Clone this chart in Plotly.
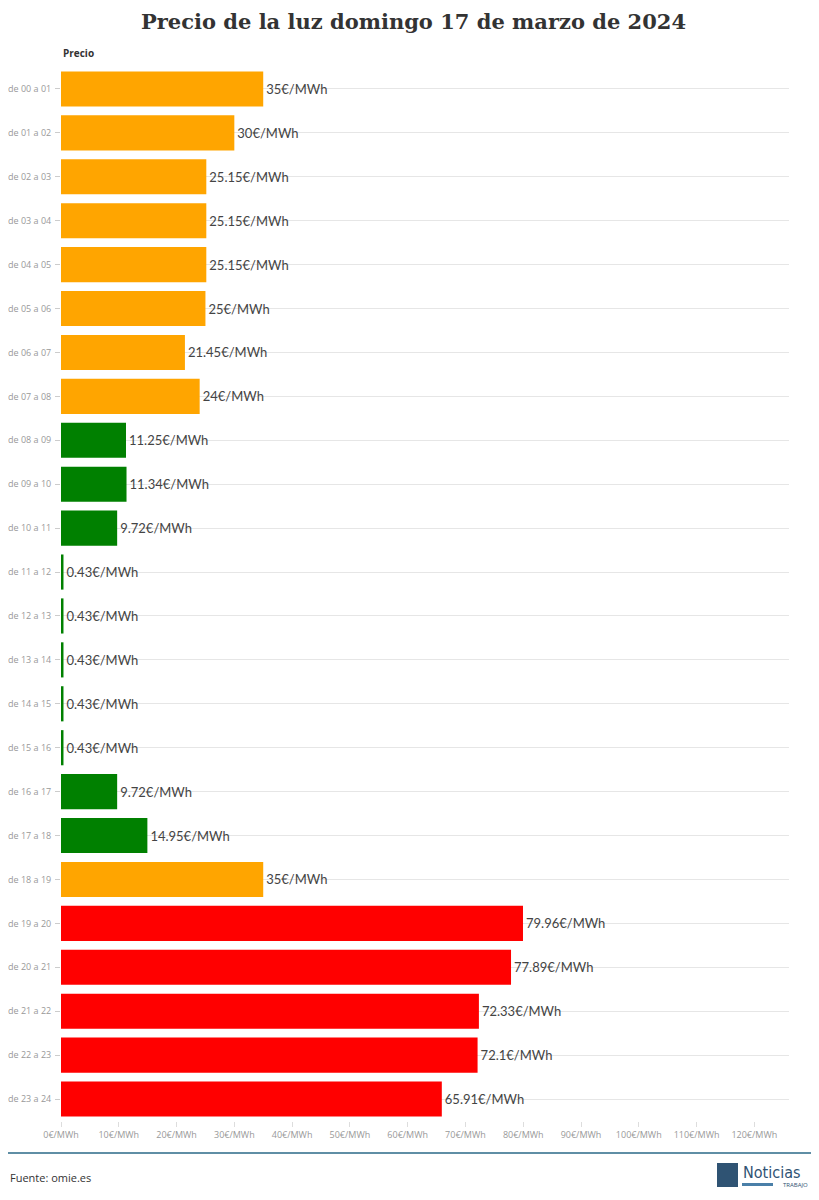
import plotly.graph_objects as go

horas = [f"de {i:02d} a {i+1:02d}" for i in range(24)]
precios = [35, 30, 25.15, 25.15, 25.15, 25, 21.45, 24, 11.25, 11.34, 9.72, 0.43, 0.43, 0.43,
           0.43, 0.43, 9.72, 14.95, 35, 79.96, 77.89, 72.33, 72.1, 65.91]
colores = ["#FFA500"]*8 + ["#008000"]*10 + ["#FFA500"] + ["#FF0000"]*5
etiquetas = [f"{p:g}€/MWh" for p in precios]
ticks = list(range(0, 130, 10))

OFF = 8  # page body margin
W, H = 811, 1192
L, R, T, B = 61-OFF, 30, 67-OFF, 79
PH = H - T - B
PW = W - L - R

def py(ypix):  # page pixel y -> paper
    return 1 - (ypix - OFF - T) / PH
def px(xpix):
    return (xpix - OFF - L) / PW

fig = go.Figure(go.Bar(
    y=horas, x=precios, orientation="h", marker=dict(color=colores, line=dict(width=0)),
    text=etiquetas, textposition="outside", cliponaxis=False,
    textfont=dict(family="Lato, Open Sans, sans-serif", size=13, color="#444"),
))
fig.update_layout(
    width=W, height=H, margin=dict(l=L, r=R, t=T, b=B),
    paper_bgcolor="white", plot_bgcolor="white", bargap=0.2, showlegend=False,
    title=dict(text="<b>Precio de la luz domingo 17 de marzo de 2024</b>", x=0.5, xanchor="center",
               y=1-(22-OFF)/H, yanchor="middle",
               font=dict(family="DejaVu Serif, serif", size=21, color="#333")),
    font=dict(family="Open Sans, sans-serif"),
)
fig.update_yaxes(autorange="reversed", showgrid=True, gridcolor="#e6e6e6", ticks="outside",
                 ticklen=5, tickcolor="#ccc", tickfont=dict(size=9, color="#999"),
                 ticklabelstandoff=2, automargin=False)
fig.update_xaxes(range=[0, 126], tickvals=ticks, ticktext=[f"{t}€/MWh" for t in ticks],
                 showgrid=False, zeroline=False, ticks="outside", tickcolor="#ddd", ticklen=5,
                 tickfont=dict(size=9, color="#999"), automargin=False)
fig.add_annotation(text="<b>Precio</b>", xref="paper", yref="paper", x=0, y=py(53),
                   xanchor="left", yanchor="middle", showarrow=False, font=dict(size=10, color="#333"))
# footer
fig.add_shape(type="line", xref="paper", yref="paper", x0=px(8), x1=px(811),
              y0=py(1153), y1=py(1153), line=dict(color="#5f8ea5", width=2))
fig.add_annotation(text="Fuente: omie.es", xref="paper", yref="paper", x=px(8),
                   y=py(1177), xanchor="left", yanchor="middle", showarrow=False,
                   font=dict(size=11, color="#333"))
fig.add_shape(type="rect", xref="paper", yref="paper",
              x0=px(717), x1=px(738), y0=py(1187), y1=py(1163),
              fillcolor="#2f5373", line=dict(width=0))
fig.add_shape(type="rect", xref="paper", yref="paper",
              x0=px(742), x1=px(773), y0=py(1186), y1=py(1183),
              fillcolor="#4a7fa8", line=dict(width=0))
fig.add_annotation(text="Noticias", xref="paper", yref="paper", x=px(741),
                   y=py(1172), xanchor="left", yanchor="middle", showarrow=False,
                   font=dict(size=16, color="#2f5373", family="DejaVu Sans Condensed, sans-serif"))
fig.add_annotation(text="TRABAJO", xref="paper", yref="paper", x=px(810),
                   y=py(1185), xanchor="right", yanchor="middle", showarrow=False,
                   font=dict(size=6, color="#2f5373"))
fig.write_html("out.html")
